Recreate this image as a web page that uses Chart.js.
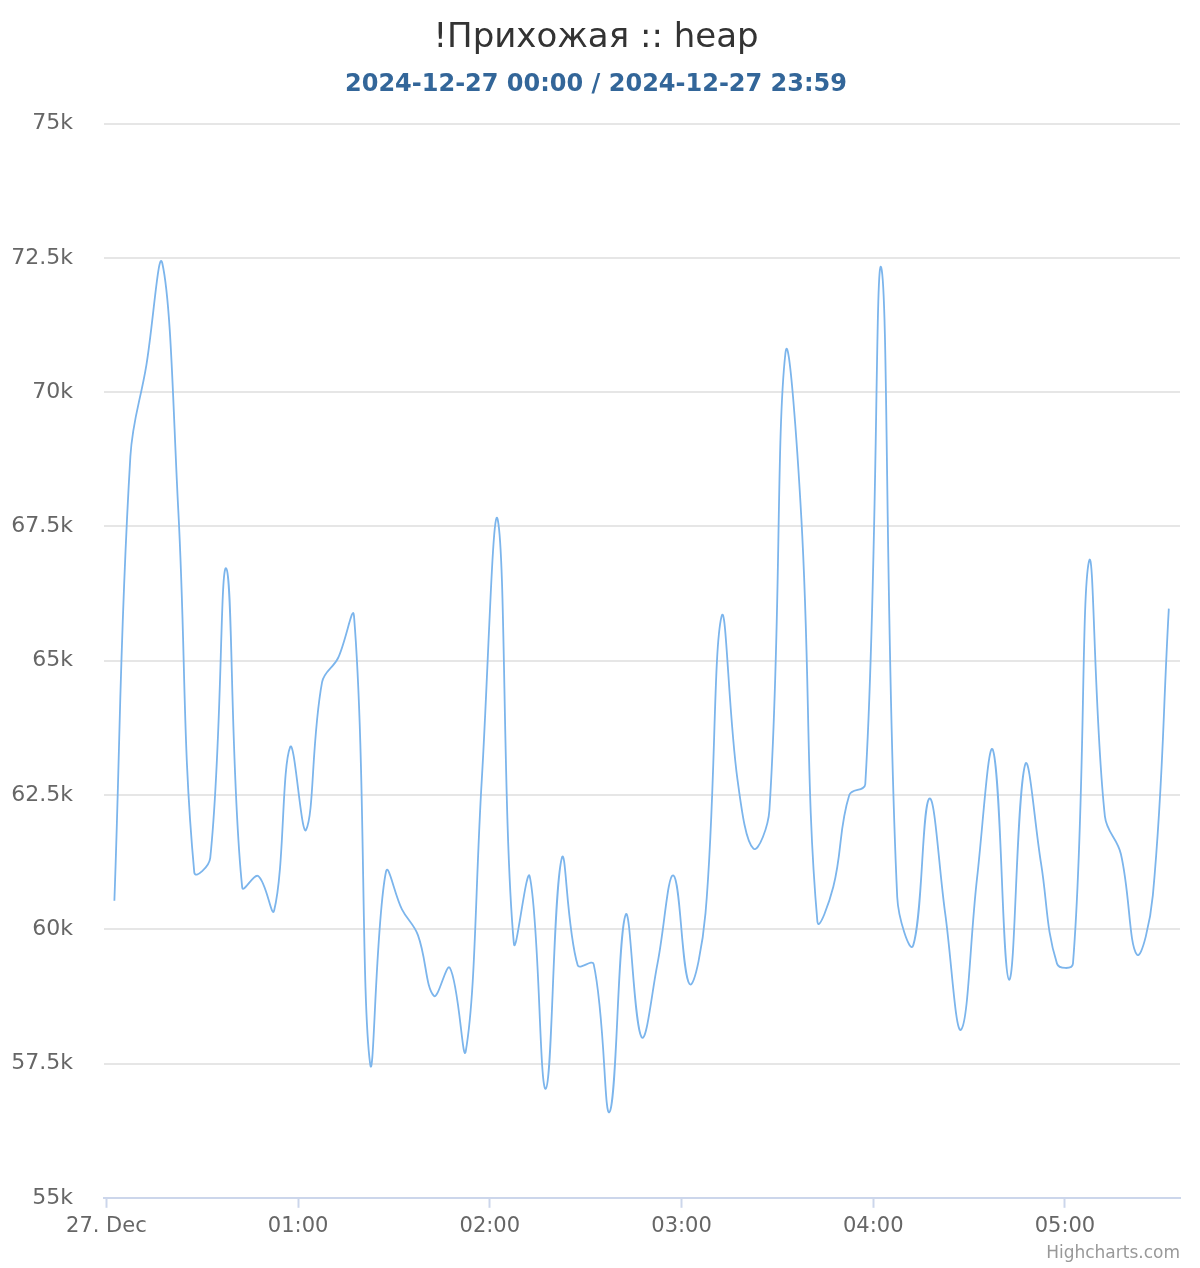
<!DOCTYPE html>
<html>
<head>
<meta charset="utf-8">
<script src="https://cdn.jsdelivr.net/npm/chart.js@4/dist/chart.umd.min.js"></script>
<style>
  html, body { margin: 0; padding: 0; background: #fff; }
  #wrap { width: 1200px; height: 1268px; }
</style>
</head>
<body>
<div id="wrap"><canvas id="heapChart" width="1200" height="1268"></canvas></div>
<script>
const chartTitle = '!Прихожая :: heap';
const chartSubtitle = '2024-12-27 00:00 / 2024-12-27 23:59';

// sample times (27 Dec), every 5 minutes
const times = [
  '00:02:30','00:07:30','00:12:30','00:17:30','00:22:30','00:27:30','00:32:30','00:37:30','00:42:30','00:47:30',
  '00:52:30','00:57:30','01:02:30','01:07:30','01:12:30','01:17:30','01:22:30','01:27:30','01:32:30','01:37:30',
  '01:42:30','01:47:30','01:52:30','01:57:30','02:02:30','02:07:30','02:12:30','02:17:30','02:22:30','02:27:30',
  '02:32:30','02:37:30','02:42:30','02:47:30','02:52:30','02:57:30','03:02:30','03:07:30','03:12:30','03:17:30',
  '03:22:30','03:27:30','03:32:30','03:37:30','03:42:30','03:47:30','03:52:30','03:57:30','04:02:30','04:07:30',
  '04:12:30','04:17:30','04:22:30','04:27:30','04:32:30','04:37:30','04:42:30','04:47:30','04:52:30','04:57:30',
  '05:02:30','05:07:30','05:12:30','05:17:30','05:22:30','05:27:30','05:32:30'
];

const heap = [
  60530, 68800, 70500, 72400, 67800, 61060, 61330, 66720, 60780, 60990,
  60350, 63390, 61850, 64600, 65050, 65830, 57510, 61070, 60370, 59890,
  58760, 59280, 57740, 62800, 67620, 59750, 60980, 57030, 61320, 59330,
  59350, 56600, 60270, 57990, 59370, 61000, 58980, 60300, 65820, 62790,
  61500, 62220, 70720, 67650, 60150, 60790, 62500, 62700, 72320, 60600,
  59700, 62430, 60300, 58130, 60960, 63330, 59060, 63060, 61230, 59360,
  59360, 66850, 62100, 61400, 59530, 60630, 65970
];

const xTickMinutes = [0, 60, 120, 180, 240, 300];
const xTickLabels = ['27. Dec', '01:00', '02:00', '03:00', '04:00', '05:00'];

function toMinutes(t) {
  const p = t.split(':').map(Number);
  return p[0] * 60 + p[1] + p[2] / 60;
}

const points = times.map((t, i) => ({ x: toMinutes(t), y: heap[i] }));

const FONT = "'DejaVu Sans', sans-serif";

const credits = {
  id: 'credits',
  afterDraw(chart) {
    const c = chart.ctx;
    c.save();
    c.font = '17px ' + FONT;
    c.fillStyle = '#999999';
    c.textAlign = 'right';
    c.textBaseline = 'alphabetic';
    c.fillText('Highcharts.com', 1180, 1258);
    c.restore();
  }
};

const ctx = document.getElementById('heapChart').getContext('2d');
const heapChart = new Chart(ctx, {
  type: 'line',
  data: {
    datasets: [{
      label: 'heap',
      data: points,
      borderColor: '#7cb5ec',
      borderWidth: 1.8,
      tension: 0.4,
      pointRadius: 0,
      fill: false
    }]
  },
  options: {
    responsive: false,
    maintainAspectRatio: false,
    animation: false,
    layout: { padding: { left: 12, right: 20, top: 0, bottom: 23 } },
    plugins: {
      legend: { display: false },
      tooltip: { enabled: false },
      title: {
        display: true,
        text: chartTitle,
        color: '#333333',
        font: { family: FONT, size: 34, weight: 'normal' },
        padding: { top: 18, bottom: 0 }
      },
      subtitle: {
        display: true,
        text: chartSubtitle,
        color: '#336699',
        font: { family: FONT, size: 24, weight: 'bold' },
        padding: { top: 12, bottom: 24 }
      }
    },
    scales: {
      x: {
        type: 'linear',
        min: -0.75,
        max: 336,
        afterBuildTicks(scale) {
          scale.ticks = xTickMinutes.map(v => ({ value: v }));
        },
        afterFit(scale) {
          scale.paddingLeft = 0;
          scale.paddingRight = 0;
        },
        ticks: {
          autoSkip: false,
          maxRotation: 0,
          padding: 6,
          color: '#666666',
          font: { family: FONT, size: 21 },
          callback(value) {
            const i = xTickMinutes.indexOf(value);
            return i >= 0 ? xTickLabels[i] : '';
          }
        },
        grid: {
          drawOnChartArea: false,
          drawTicks: true,
          tickLength: 10,
          tickWidth: 2,
          tickColor: '#ccd6eb'
        },
        border: { display: true, color: '#ccd6eb', width: 2 }
      },
      y: {
        min: 55000,
        max: 75000,
        afterFit(scale) {
          scale.width = 92;
        },
        ticks: {
          stepSize: 2500,
          padding: 31,
          color: '#666666',
          font: { family: FONT, size: 22 },
          callback: v => (v / 1000) + 'k'
        },
        grid: { color: '#e6e6e6', lineWidth: 2, drawTicks: false },
        border: { display: false }
      }
    }
  },
  plugins: [credits]
});
</script>
</body>
</html>
